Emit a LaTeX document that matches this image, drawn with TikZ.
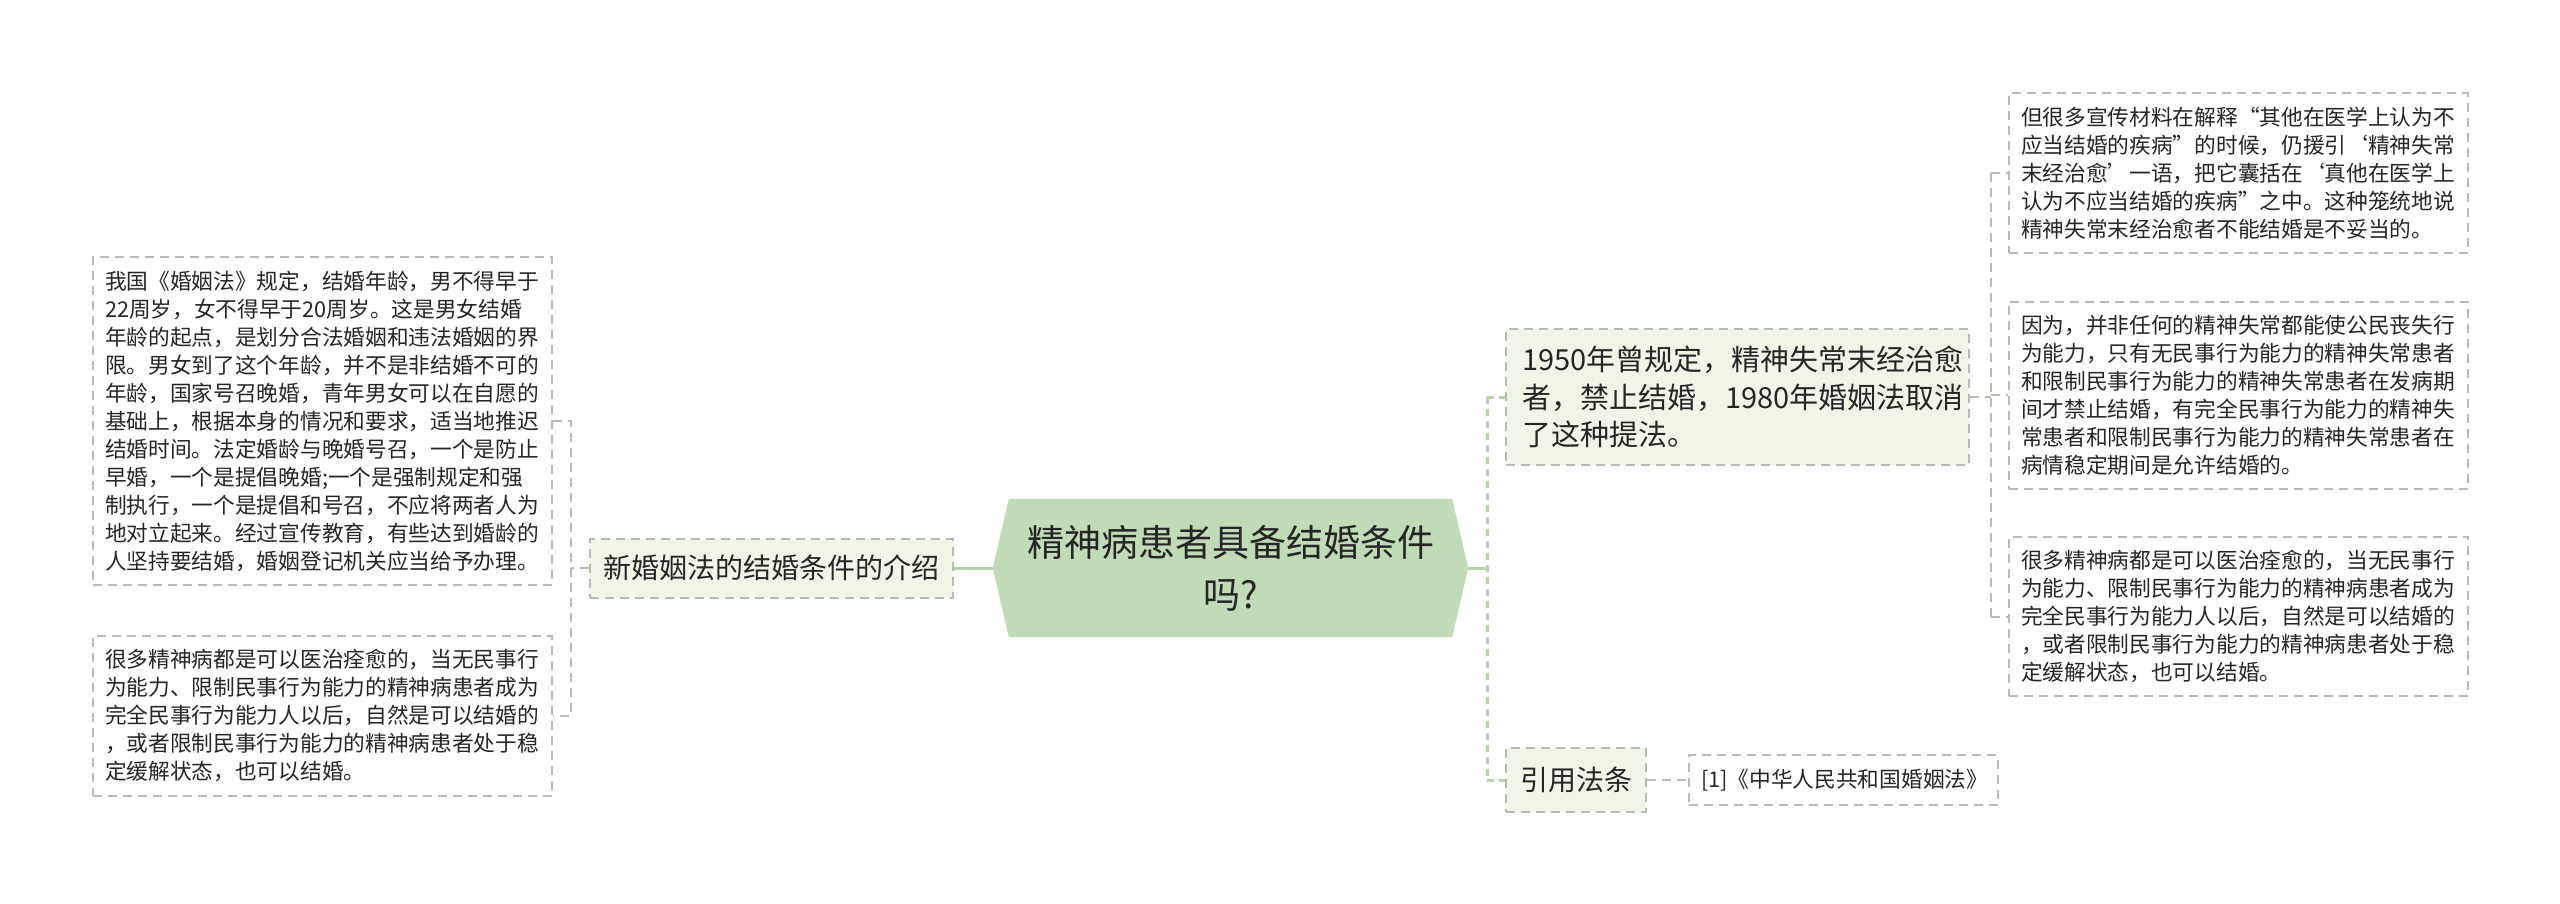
\documentclass[tikz,border=0pt]{standalone}
\usepackage{fontspec}
\setmainfont{Noto Sans CJK SC}
\usetikzlibrary{positioning,calc,backgrounds}
\usepackage{xcolor}
\definecolor{hexfill}{HTML}{C1DAB7}
\definecolor{topicfill}{HTML}{F0F5E8}
\definecolor{framegray}{HTML}{B4BEB0}
\definecolor{branchgreen}{HTML}{B7D3AB}
\definecolor{inktext}{HTML}{262626}
\tikzset{
  leafbox/.style={draw=framegray, line width=2pt, dash pattern=on 9pt off 6pt, fill=white, text=inktext,
    font=\fontsize{21.7pt}{28pt}\selectfont, text width=435pt, inner xsep=12pt, inner ysep=13.5pt, align=left},
  topicbox/.style={draw=framegray, line width=2pt, dash pattern=on 9pt off 6pt, fill=topicfill, text=inktext,
    font=\fontsize{28pt}{38pt}\selectfont},
  mainline/.style={draw=branchgreen, line width=3pt},
  topicline/.style={draw=branchgreen, line width=3pt, dash pattern=on 7pt off 5pt},
  leafline/.style={draw=framegray, line width=2pt, dash pattern=on 9pt off 6pt},
}

\begin{document}
\begin{tikzpicture}[x=1pt, y=-1pt]
    \useasboundingbox (0,0) rectangle (2560,904);
    % centre topic
    \node[minimum width=443pt, minimum height=138pt, inner sep=0pt, text=inktext, align=center,
      font=\fontsize{37pt}{52pt}\selectfont] (core) at (1230.5,568) {精神病患者具备结婚条件\\吗?};
    \coordinate (coreL) at ($(core.west)+(-16,0)$);
    \coordinate (coreR) at ($(core.east)+(16,0)$);

    % left branch
    \node[topicbox, minimum width=363pt, minimum height=59pt, inner sep=0pt, left=39pt of coreL] (intro) {新婚姻法的结婚条件的介绍};
    \node[leafbox] (agebox) at (322.5,421) {我国《婚姻法》规定，结婚年龄，男不得早于\\22周岁，女不得早于20周岁。这是男女结婚\\年龄的起点，是划分合法婚姻和违法婚姻的界\\限。男女到了这个年龄，并不是非结婚不可的\\年龄，国家号召晚婚，青年男女可以在自愿的\\基础上，根据本身的情况和要求，适当地推迟\\结婚时间。法定婚龄与晚婚号召，一个是防止\\早婚，一个是提倡晚婚;一个是强制规定和强\\制执行，一个是提倡和号召，不应将两者人为\\地对立起来。经过宣传教育，有些达到婚龄的\\人坚持要结婚，婚姻登记机关应当给予办理。};
    \node[leafbox, below=49pt of agebox] (curebox) {很多精神病都是可以医治痊愈的，当无民事行\\为能力、限制民事行为能力的精神病患者成为\\完全民事行为能力人以后，自然是可以结婚的\\，或者限制民事行为能力的精神病患者处于稳\\定缓解状态，也可以结婚。};
    \coordinate[right=18pt of agebox.east] (introfork);

    % right branch
    \node[topicbox, text width=431pt, inner xsep=16pt, inner ysep=17pt, align=left,
      font=\fontsize{29pt}{37.5pt}\selectfont] (rule1950) at (1737.5,397) {1950年曾规定，精神失常末经治愈\\者，禁止结婚，1980年婚姻法取消\\了这种提法。};
    \node[topicbox, minimum width=140pt, minimum height=64pt, inner sep=0pt] (cite) at (1576,780) {引用法条};
    \node[leafbox, text width=285pt, align=center, right=41pt of cite] (lawref) {[1]《中华人民共和国婚姻法》};
    \node[leafbox] (misuse) at (2238.5,173) {但很多宣传材料在解释“其他在医学上认为不\\应当结婚的疾病”的时候，仍援引‘精神失常\\末经治愈’一语，把它囊括在‘真他在医学上\\认为不应当结婚的疾病”之中。这种笼统地说\\精神失常末经治愈者不能结婚是不妥当的。};
    \node[leafbox, below=47pt of misuse] (capacity) {因为，并非任何的精神失常都能使公民丧失行\\为能力，只有无民事行为能力的精神失常患者\\和限制民事行为能力的精神失常患者在发病期\\间才禁止结婚，有完全民事行为能力的精神失\\常患者和限制民事行为能力的精神失常患者在\\病情稳定期间是允许结婚的。};
    \node[leafbox, below=46pt of capacity] (cured) {很多精神病都是可以医治痊愈的，当无民事行\\为能力、限制民事行为能力的精神病患者成为\\完全民事行为能力人以后，自然是可以结婚的\\，或者限制民事行为能力的精神病患者处于稳\\定缓解状态，也可以结婚。};
    \coordinate[right=19pt of coreR] (rulefork);
    \coordinate[right=21pt of rule1950.east] (leaffork);

    % connectors
    \draw[mainline] (coreL) -- (intro);
    \draw[leafline] (intro.west) -- (intro.west -| introfork);
    \draw[leafline] (agebox.east) -- (introfork) |- (curebox.east);
    \draw[mainline] (coreR) -- (rulefork);
    \draw[topicline] (rule1950.west -| rulefork) -- (cite.west -| rulefork);
    \draw[topicline] (rule1950.west -| rulefork) -- (rule1950.west);
    \draw[topicline] (cite.west -| rulefork) -- (cite.west);
    \draw[leafline] (rule1950.east) -- (leaffork);
    \draw[leafline] (misuse.west -| leaffork) -- (cured.west -| leaffork);
    \draw[leafline] (misuse.west -| leaffork) -- (misuse.west);
    \draw[leafline] (capacity.west -| leaffork) -- (capacity.west);
    \draw[leafline] (cured.west -| leaffork) -- (cured.west);
    \draw[leafline] (cite) -- (lawref);

    \begin{scope}[on background layer]
        \fill[white] (0,0) rectangle (2560,904);
        \fill[hexfill] (core.north west) -- (core.north east) -- (coreR) -- (core.south east)
          -- (core.south west) -- (coreL) -- cycle;
    \end{scope}
\end{tikzpicture}
\end{document}
